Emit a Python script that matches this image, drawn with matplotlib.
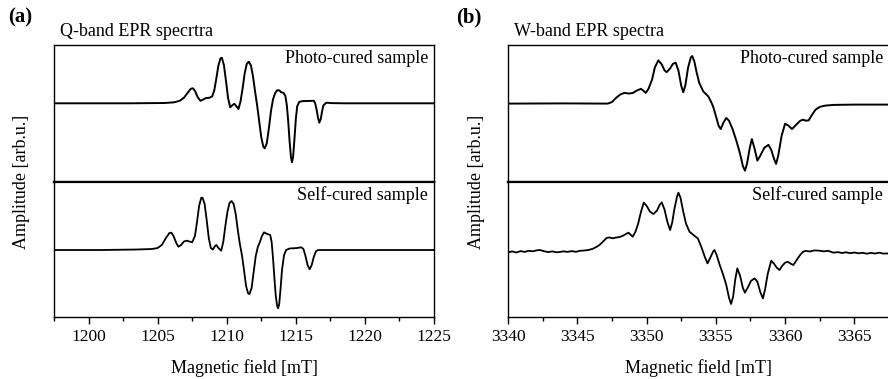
import matplotlib
matplotlib.use("Agg")
import matplotlib.pyplot as plt
from matplotlib.ticker import MultipleLocator

plt.rcParams["font.family"] = ["Liberation Serif", "DejaVu Serif"]

# Q-band, photo-cured (field in mT, amplitude in arb. units)
q_photo_b = [1197.5, 1203.0, 1205.5, 1206.2, 1206.6, 1206.9, 1207.2, 1207.4, 1207.55, 1207.7,
             1207.9, 1208.1, 1208.3, 1208.5, 1208.75, 1208.95, 1209.1, 1209.25, 1209.4, 1209.55,
             1209.65, 1209.8, 1209.95, 1210.1, 1210.25, 1210.4, 1210.55, 1210.7, 1210.85, 1211.0,
             1211.15, 1211.3, 1211.45, 1211.6, 1211.75, 1211.9, 1212.05, 1212.2, 1212.35, 1212.5,
             1212.65, 1212.75, 1212.9, 1213.05, 1213.2, 1213.35, 1213.5, 1213.65, 1213.8, 1213.95,
             1214.1, 1214.25, 1214.35, 1214.45, 1214.55, 1214.65, 1214.72, 1214.8, 1214.9, 1215.0,
             1215.1, 1215.25, 1215.5, 1215.8, 1216.1, 1216.3, 1216.4, 1216.5, 1216.6, 1216.7,
             1216.8, 1216.9, 1217.0, 1217.2, 1217.6, 1218.5, 1225.0]
q_photo_a = [0, 0, 0.3, 1, 2.5, 5.5, 11, 14.5, 15, 12.5,
             6, 2.5, 3.8, 5.3, 5.5, 7, 13, 25, 38, 45,
             45.5, 38, 22, 5, -4, -2, -0.5, -3, -5.7, 2,
             15, 30, 39.5, 41.6, 38, 27, 12, -2, -18, -34,
             -43.5, -45, -40, -25, -8, 4, 10, 13, 13, 11,
             10.6, 7, -2, -18, -38, -54, -59, -54, -36, -16,
             -3, 1.5, 2.2, 2.3, 2.4, 2.6, 0, -6, -14, -19.4,
             -16, -8, -2, 0.6, 0.2, 0, 0]

# Q-band, self-cured
q_self_b = [1197.5, 1201.0, 1203.5, 1204.6, 1205.0, 1205.3, 1205.6, 1205.85, 1206.0, 1206.15,
            1206.35, 1206.5, 1206.7, 1206.9, 1207.1, 1207.3, 1207.5, 1207.7, 1207.85, 1208.0,
            1208.15, 1208.25, 1208.4, 1208.55, 1208.7, 1208.85, 1209.0, 1209.15, 1209.25, 1209.4,
            1209.6, 1209.75, 1209.9, 1210.05, 1210.2, 1210.35, 1210.5, 1210.65, 1210.8, 1210.95,
            1211.1, 1211.25, 1211.4, 1211.55, 1211.65, 1211.8, 1211.95, 1212.1, 1212.25, 1212.4,
            1212.55, 1212.7, 1212.85, 1213.0, 1213.15, 1213.25, 1213.35, 1213.45, 1213.55, 1213.65,
            1213.72, 1213.8, 1213.9, 1214.0, 1214.15, 1214.3, 1214.55, 1214.8, 1215.1, 1215.4,
            1215.55, 1215.7, 1215.85, 1216.0, 1216.15, 1216.3, 1216.45, 1216.6, 1217.5, 1225.0]
q_self_a = [0, 0, 0.5, 1, 2, 5, 12, 17, 17.3, 14,
            7, 3.3, 5, 8.5, 9.3, 8.5, 7.7, 14, 28, 44,
            52, 52.3, 46, 30, 12, 2, 0.5, 4, 5, 2,
            -0.7, 8, 24, 38, 47, 49, 46, 36, 20, 6,
            -5, -20, -36, -43.5, -44, -38, -22, -6, 3, 8,
            14, 17.7, 16.5, 15.7, 15, 8, -8, -28, -46, -56,
            -58.3, -54, -38, -20, -5, 0, 1.5, 1.7, 2, 2.7,
            1, -6, -15, -19.3, -15, -7, -1.5, 0, 0, 0]

# W-band, photo-cured
w_photo_b = [3340.0, 3344.0, 3347.2, 3347.5, 3347.8, 3348.1, 3348.4, 3348.7, 3349.0, 3349.3,
             3349.6, 3349.8, 3349.95, 3350.15, 3350.4, 3350.6, 3350.85, 3351.1, 3351.3, 3351.45,
             3351.7, 3351.9, 3352.1, 3352.3, 3352.5, 3352.65, 3352.8, 3353.0, 3353.2, 3353.3,
             3353.45, 3353.6, 3353.8, 3354.1, 3354.45, 3354.65, 3354.8, 3355.0, 3355.2, 3355.35,
             3355.55, 3355.75, 3355.95, 3356.2, 3356.5, 3356.75, 3356.95, 3357.1, 3357.25, 3357.45,
             3357.6, 3357.8, 3358.0, 3358.2, 3358.5, 3358.8, 3359.0, 3359.2, 3359.35, 3359.5,
             3359.75, 3360.0, 3360.25, 3360.5, 3360.8, 3361.1, 3361.3, 3361.5, 3361.7, 3361.95,
             3362.2, 3362.5, 3362.9, 3363.5, 3365.0, 3367.5]
w_photo_a = [0, 0.2, 0, 1.5, 5.7, 9, 10.7, 10, 10.5, 13,
             14.7, 12.5, 10.7, 15, 24, 36, 43, 39, 33, 31.3,
             35, 39.5, 40.7, 33, 18, 11.3, 18, 36, 46, 47.3,
             42, 32, 20.7, 12, 7.3, 2, -2.7, -12, -22, -25.3,
             -19, -14.3, -17, -25, -37.7, -50, -62, -66.7, -60, -44,
             -35.3, -45, -56.7, -52, -44, -41, -46, -55, -60, -52,
             -32, -20, -22, -25.3, -21, -17, -16, -17, -16.7, -11,
             -6, -3.3, -2, -1.3, -1, -1]

# W-band, self-cured (noisy trace)
w_self_b = [3340.0, 3340.3, 3340.6, 3340.9, 3341.2, 3341.5, 3341.8, 3342.1, 3342.3, 3342.6,
            3342.9, 3343.2, 3343.5, 3343.75, 3344.0, 3344.3, 3344.6, 3344.9, 3345.2, 3345.5,
            3345.8, 3346.1, 3346.35, 3346.6, 3346.85, 3347.1, 3347.3, 3347.55, 3347.8, 3348.05,
            3348.3, 3348.55, 3348.7, 3348.85, 3349.0, 3349.2, 3349.4, 3349.6, 3349.8, 3350.0,
            3350.25, 3350.5, 3350.75, 3350.95, 3351.1, 3351.3, 3351.5, 3351.7, 3351.85, 3352.0,
            3352.2, 3352.3, 3352.45, 3352.65, 3352.85, 3353.1, 3353.4, 3353.7, 3353.95, 3354.2,
            3354.4, 3354.6, 3354.8, 3354.9, 3355.05, 3355.3, 3355.5, 3355.75, 3355.95, 3356.1,
            3356.25, 3356.4, 3356.55, 3356.75, 3356.95, 3357.1, 3357.3, 3357.55, 3357.8, 3358.0,
            3358.2, 3358.4, 3358.55, 3358.75, 3359.0, 3359.2, 3359.4, 3359.6, 3359.8, 3360.0,
            3360.2, 3360.4, 3360.6, 3360.85, 3361.1, 3361.3, 3361.5, 3361.8, 3362.1, 3362.5,
            3362.8, 3363.1, 3363.5, 3363.8, 3364.1, 3364.4, 3364.7, 3365.0, 3365.3, 3365.6,
            3365.9, 3366.2, 3366.5, 3366.8, 3367.1, 3367.5]
w_self_a = [-0.7, 0.3, -0.8, 0.6, -0.2, 0.9, 0.4, 1.4, 1.7, 0.5,
            -0.4, 0.3, -0.6, -0.3, 0.4, -0.2, 0.6, -0.1, 0.9, 1.2,
            1.7, 2.8, 4.5, 6.7, 10, 13.5, 14.3, 13.4, 14.2, 14.6,
            16, 18, 19, 17, 15, 20, 28.3, 40, 49, 46,
            40, 37.7, 41, 47, 49.3, 42, 30, 21.7, 29, 42,
            55, 59, 54, 40, 28, 20, 16.5, 13.3, 5, -5,
            -11.7, -6, 0, 1.7, -3, -14, -21.7, -33, -46, -52.3,
            -45, -28, -16.7, -24, -36, -41, -36, -29, -26.7, -30,
            -40, -46.7, -38, -22, -9, -12, -16, -18.3, -14, -11,
            -10, -12, -13.3, -8, -3, 0, 0.8, 0.2, 1.3, 1,
            0.3, 0.9, -1, -0.4, -1.3, -0.6, -1.5, -0.8, -1.6, -1.1,
            -2.0, -1.2, -1.8, -1.0, -1.9, -1.7]

W, H = 888, 379
fig = plt.figure(figsize=(W / 100, H / 100), dpi=100)


def box(x0, x1, y_top, y_bot):
    return [x0 / W, 1 - y_bot / H, (x1 - x0) / W, (y_bot - y_top) / H]


def style(ax, bottom):
    ax.set_yticks([])
    for s in ax.spines.values():
        s.set_linewidth(1.0)
    if bottom:
        ax.xaxis.set_major_locator(MultipleLocator(5))
        ax.xaxis.set_minor_locator(MultipleLocator(2.5))
        ax.tick_params(axis="x", which="major", direction="out", length=5, width=1, labelsize=12.5)
        ax.tick_params(axis="x", which="minor", direction="out", length=3, width=1)
    else:
        ax.set_xticks([])


panels = [
    (54, 434, (1197.5, 1225), q_photo_b, q_photo_a, q_self_b, q_self_a,
     (-78.7, 58.3), (-67, 68), "Q-band EPR specrtra", "(a)", 8),
    (508, 889, (3340, 3367.5), w_photo_b, w_photo_a, w_self_b, w_self_a,
     (-78, 58.3), (-65.3, 69.7), "W-band EPR spectra", "(b)", 456),
]

for x0, x1, xlim, pb, pa, sb, sa, ylt, ylb, title, tag, tagx in panels:
    ax1 = fig.add_axes(box(x0, x1, 45, 182))
    ax2 = fig.add_axes(box(x0, x1, 182, 317))
    ax1.plot(pb, pa, color="black", lw=1.4)
    ax2.plot(sb, sa, color="black", lw=1.3)
    ax1.set_xlim(*xlim)
    ax2.set_xlim(*xlim)
    ax1.set_ylim(*ylt)
    ax2.set_ylim(*ylb)
    style(ax1, False)
    style(ax2, True)
    ax1.spines["bottom"].set_linewidth(1.6)
    ax2.spines["top"].set_linewidth(1.6)
    ax1.text(0.985, 0.9, "Photo-cured sample", transform=ax1.transAxes,
             ha="right", va="center", fontsize=13)
    ax2.text(0.985, 0.9, "Self-cured sample", transform=ax2.transAxes,
             ha="right", va="center", fontsize=13)
    ax2.set_xlabel("Magnetic field [mT]", fontsize=13, labelpad=10)
    fig.text((x0 - 32) / W, 1 - 182 / H, "Amplitude [arb.u.]", rotation=90,
             ha="center", va="center", fontsize=13)
    fig.text((x0 + 6) / W, 1 - 32 / H, title, ha="left", va="center", fontsize=13)
    fig.text(tagx / W, 1 - 17 / H, tag, ha="left", va="center", fontsize=15,
             fontweight="bold")

fig.savefig("out.png", dpi=100)
